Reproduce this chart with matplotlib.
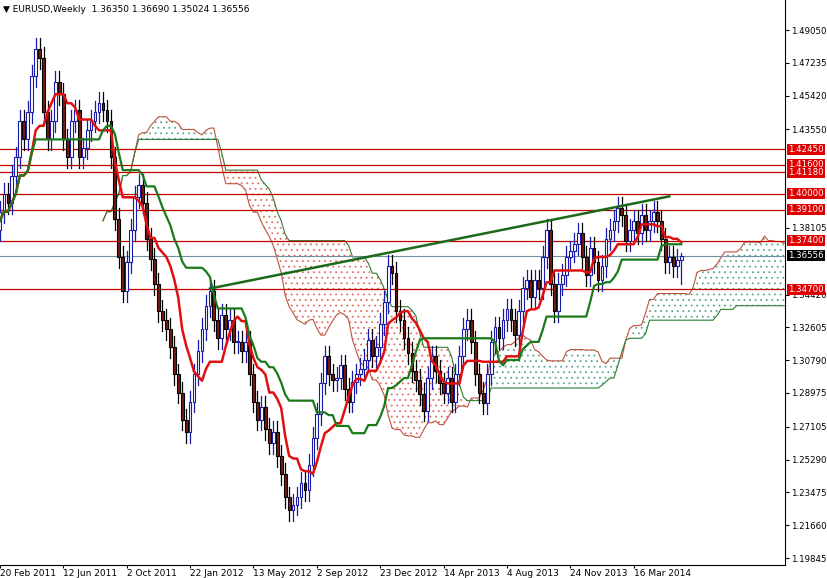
import matplotlib
matplotlib.use("Agg")
import matplotlib.pyplot as plt
import matplotlib.transforms as mtrans
import numpy as np
import pandas as pd

closes = [1.390,1.400,1.395,1.410,1.420, 1.440,1.430,1.445,1.465,1.480,
          1.475,1.445,1.430,1.440,1.462, 1.455,1.430,1.420,1.440,1.446,
          1.420,1.425,1.435,1.440,1.445, 1.450,1.446,1.440,1.420,1.386,
          1.365,1.346,1.362,1.380,1.398, 1.405,1.395,1.375,1.364,1.350,
          1.335,1.330,1.325,1.315,1.300, 1.290,1.275,1.268,1.285,1.300,
          1.313,1.325,1.338,1.346,1.330, 1.320,1.333,1.325,1.330,1.318,
          1.318,1.313,1.318,1.300,1.285, 1.275,1.282,1.270,1.262,1.268,
          1.255,1.245,1.232,1.225,1.228, 1.232,1.240,1.236,1.250,1.265,
          1.278,1.295,1.310,1.300,1.297, 1.298,1.305,1.292,1.285,1.296,
          1.300,1.303,1.308,1.319,1.310, 1.315,1.328,1.340,1.360,1.356,
          1.335,1.330,1.320,1.312,1.302, 1.297,1.289,1.280,1.298,1.310,
          1.302,1.295,1.290,1.298,1.285, 1.300,1.310,1.325,1.330,1.318,
          1.300,1.290,1.284,1.300,1.318, 1.326,1.320,1.330,1.336,1.330,
          1.322,1.335,1.348,1.352,1.343, 1.352,1.348,1.365,1.380,1.350,
          1.335,1.350,1.355,1.365,1.368, 1.372,1.378,1.365,1.355,1.370,
          1.362,1.352,1.360,1.375,1.380, 1.385,1.392,1.388,1.374,1.380,
          1.385,1.378,1.388,1.380,1.385, 1.390,1.385,1.375,1.362,1.365,
          1.360,1.3635,1.36556]
first_open = 1.380
last_high, last_low = 1.36690, 1.35024
wick = 0.006

levels = [1.4245, 1.4160, 1.4118, 1.4000, 1.3910, 1.3740, 1.3470]
level_labels = ["1.42450", "1.41600", "1.41180", "1.40000", "1.39100", "1.37400", "1.34700"]
last_price = 1.36556
yticks = [1.49050,1.47235,1.45420,1.43550,1.38105,1.34420,1.32605,1.30790,1.28975,1.27105,1.25290,1.23475,1.21660,1.19845]
date_labels = ["20 Feb 2011","12 Jun 2011","2 Oct 2011","22 Jan 2012","13 May 2012","2 Sep 2012",
               "23 Dec 2012","14 Apr 2013","4 Aug 2013","24 Nov 2013","16 Mar 2014"]
trend = ([53, 169], [1.3475, 1.3985])

c = np.array(closes)
o = np.concatenate([[first_open], c[:-1]])
o[-1] = 1.36350
h = np.maximum(o, c) + wick
l = np.minimum(o, c) - wick
h[-1], l[-1] = last_high, last_low
n = len(c)
idx = np.arange(n)

H = pd.Series(h); L = pd.Series(l)
tenkan = (H.rolling(9, min_periods=1).max() + L.rolling(9, min_periods=1).min()) / 2
kijun = (H.rolling(26, min_periods=1).max() + L.rolling(26, min_periods=1).min()) / 2
spanA = ((tenkan + kijun) / 2).values
spanB = ((H.rolling(52, min_periods=1).max() + L.rolling(52, min_periods=1).min()) / 2).values
cx = idx + 26

plt.rcParams["hatch.linewidth"] = 0.6
fig = plt.figure(figsize=(8.27, 5.78), dpi=100)
ax = fig.add_axes([0, 13 / 578, 785 / 827, 565 / 578])
ax.set_facecolor("white")

ax.fill_between(cx, spanA, spanB, where=spanA >= spanB, interpolate=True,
                facecolor="none", edgecolor="#5aa890", hatch="...", linewidth=0.0, zorder=1)
ax.fill_between(cx, spanA, spanB, where=spanA < spanB, interpolate=True,
                facecolor="none", edgecolor="#e07060", hatch="...", linewidth=0.0, zorder=1)
ax.plot(cx, spanA, color="#c05040", lw=0.8, zorder=2)
ax.plot(cx, spanB, color="#2e7d32", lw=0.8, zorder=2)

for lv in levels:
    ax.axhline(lv, color="#c00000", lw=0.9)
ax.axhline(last_price, color="#7090a0", lw=0.8)

for i in idx:
    bull = c[i] >= o[i]
    col = "#1a1aa8" if bull else "#000000"
    ax.plot([i, i], [l[i], h[i]], color=col, lw=0.9, zorder=3)
    b0, b1 = min(o[i], c[i]), max(o[i], c[i])
    ax.add_patch(plt.Rectangle((i - 0.35, b0), 0.7, max(b1 - b0, 0.0004),
                               facecolor="white" if bull else "#7a1a10",
                               edgecolor=col, lw=0.8, zorder=3))

ax.plot(idx, tenkan, color="#e01010", lw=1.8, zorder=4)
ax.plot(idx, kijun, color="#1a7a1a", lw=1.6, zorder=4)
ax.plot(trend[0], trend[1], color="#1a6a1a", lw=1.8, zorder=5)

ax.set_xlim(0.504, 198.2)
ax.set_ylim(1.1946, 1.5071)
ax.yaxis.tick_right()
ax.set_yticks(yticks)
ax.set_yticklabels([f"{v:.5f}" for v in yticks], fontsize=6.2)
ax.set_xticks([16 * k for k in range(len(date_labels))])
ax.set_xticklabels(date_labels, fontsize=6.5, ha="left")
ax.tick_params(axis="x", length=2, pad=1)
ax.tick_params(axis="y", length=3, pad=1.5)
for s in ["top", "left"]:
    ax.spines[s].set_visible(False)

tr = mtrans.blended_transform_factory(ax.transAxes, ax.transData)
for lv, lab in zip(levels, level_labels):
    ax.text(1.004, lv, lab, transform=tr, fontsize=6.2, color="white", va="center",
            bbox=dict(boxstyle="square,pad=0.12", fc="#e00000", ec="none"), clip_on=False, zorder=10)
ax.text(1.004, last_price, "1.36556", transform=tr, fontsize=6.2, color="white", va="center",
        bbox=dict(boxstyle="square,pad=0.12", fc="black", ec="none"), clip_on=False, zorder=10)

fig.text(0.004, 0.992, "▼ EURUSD,Weekly  1.36350 1.36690 1.35024 1.36556", fontsize=6.5, va="top")
fig.savefig("out.png", dpi=100)
